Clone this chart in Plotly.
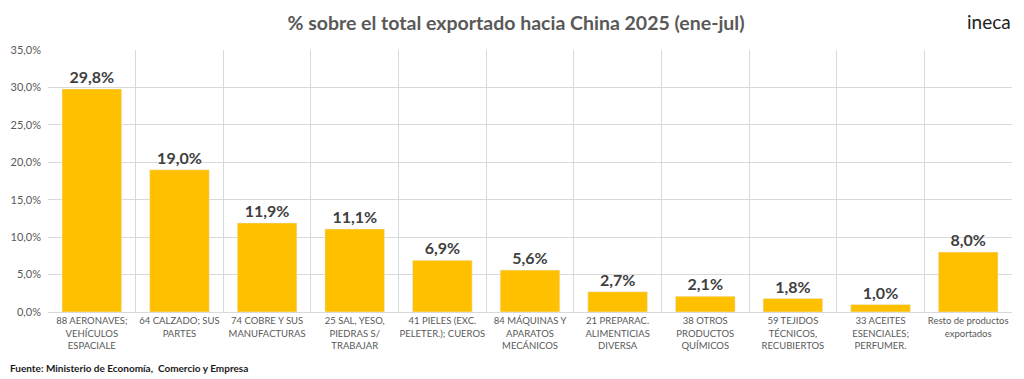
import plotly.graph_objects as go

categories = [
    "88 AERONAVES;<br>VEHÍCULOS<br>ESPACIALE",
    "64 CALZADO; SUS<br>PARTES",
    "74 COBRE Y SUS<br>MANUFACTURAS",
    "25 SAL, YESO,<br>PIEDRAS S/<br>TRABAJAR",
    "41 PIELES (EXC.<br>PELETER.); CUEROS",
    "84 MÁQUINAS Y<br>APARATOS<br>MECÁNICOS",
    "21 PREPARAC.<br>ALIMENTICIAS<br>DIVERSA",
    "38 OTROS<br>PRODUCTOS<br>QUÍMICOS",
    "59 TEJIDOS<br>TÉCNICOS,<br>RECUBIERTOS",
    "33 ACEITES<br>ESENCIALES;<br>PERFUMER.",
    "Resto de productos<br>exportados",
]
values = [0.298, 0.190, 0.119, 0.111, 0.069, 0.056, 0.027, 0.021, 0.018, 0.010, 0.080]
y_ticks = [0, 0.05, 0.10, 0.15, 0.20, 0.25, 0.30, 0.35]

xpos = list(range(len(categories)))
labels = [f"{v*100:.1f}%".replace(".", ",") for v in values]

fig = go.Figure(go.Bar(
    x=xpos, y=values, marker_color="#FFC000",
    text=labels, textposition="outside", cliponaxis=False,
    textfont=dict(family="Lato", size=16, color="#404040", weight="bold"),
    width=0.68,
))

fig.update_layout(
    width=1016, height=371,
    paper_bgcolor="white", plot_bgcolor="white",
    separators=",.",
    margin=dict(l=40, r=12, t=42, b=67),
    showlegend=False,
    font=dict(family="Lato", color="#595959"),
    title=dict(text="% sobre el total exportado hacia China 2025 (ene-jul)",
               x=0.5, xanchor="center", y=0.958, yanchor="middle",
               font=dict(family="Lato", size=19.5, color="#595959", weight="bold")),
    xaxis=dict(
        range=[-0.5, len(categories) - 0.5],
        tickmode="array", tickvals=xpos, ticktext=categories,
        tickfont=dict(family="Lato", size=9.5, color="#595959"),
        showgrid=False, ticks="", zeroline=False, automargin=False,
        showline=True, linecolor="#d9d9d9",
        minor=dict(tickmode="array", tickvals=[i - 0.5 for i in range(len(categories) + 1)],
                   showgrid=True, gridcolor="#d9d9d9", ticks=""),
        fixedrange=True,
    ),
    yaxis=dict(
        range=[0, 0.35], tickvals=y_ticks, tickformat=".1%",
        tickfont=dict(family="Lato", size=11, color="#595959"),
        showgrid=True, gridcolor="#d9d9d9", zeroline=False, ticks="",
        ticklabelstandoff=6, automargin=False,
    ),
)

fig.add_annotation(text="Fuente: Ministerio de Economía,  Comercio y Empresa",
                   xref="paper", yref="paper", x=-0.042, y=-0.214, xanchor="left", yanchor="middle",
                   showarrow=False, font=dict(family="Lato", size=10, color="#1a1a1a", weight="bold"))
fig.add_annotation(text="ineca", xref="paper", yref="paper", x=1.0, y=1.158,
                   xanchor="right", yanchor="top", showarrow=False, borderpad=0,
                   font=dict(family="Lato", size=19, color="#222222"))

fig.write_html("out.html")
